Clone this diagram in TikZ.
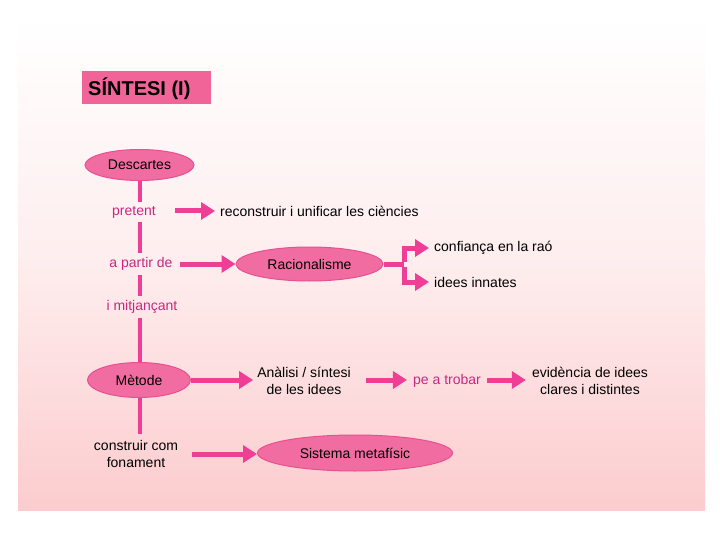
\documentclass[tikz,border=0pt]{standalone}
\usepackage{fontspec}
\setmainfont{Liberation Sans}
\usetikzlibrary{shapes.geometric,arrows.meta}
\definecolor{pinkbg}{RGB}{252,204,206}
\definecolor{arrowpink}{RGB}{238,62,150}
\definecolor{ellfill}{RGB}{241,108,160}
\definecolor{elldraw}{RGB}{232,80,145}
\definecolor{titlefill}{RGB}{241,100,152}
\definecolor{labpink}{RGB}{200,40,128}
\tikzset{
  txt/.style={font=\fontsize{14}{16.5}\selectfont, text=black, inner sep=4pt, align=center},
  lab/.style={txt, text=labpink},
  ell/.style={ellipse, draw=elldraw, line width=1pt, fill=ellfill, inner sep=0pt, font=\fontsize{14}{16.5}\selectfont},
  conn/.style={draw=arrowpink, line width=5pt},
  vline/.style={draw=arrowpink, line width=4pt},
  arr/.style={conn, -{Triangle[length=14pt,width=17pt]}},
}
\begin{document}
\begin{tikzpicture}[x=1pt,y=-1pt]
\useasboundingbox (0,0) rectangle (720,540);
\fill[white] (0,0) rectangle (720,540);
\shade[top color=white, bottom color=pinkbg, middle color={pinkbg!35!white}] (18,18) rectangle (705,510);
% title
\node[fill=titlefill, minimum width=129pt, minimum height=33pt, inner sep=0pt] (titlebox) at (146.5,87.5) {};
\node[anchor=west, font=\fontsize{20}{22}\selectfont\bfseries, inner sep=0pt] (title) at (88,89) {SÍNTESI (I)};
% left column
\node[ell, minimum width=109pt, minimum height=31pt] (desc) at (139.5,165) {Descartes};
\node[lab] (pretent) at (134,212) {pretent};
\node[lab] (apartir) at (141,264) {a partir de};
\node[lab] (mitj) at (142,307) {i mitjançant};
\node[ell, minimum width=103pt, minimum height=35pt] (metode) at (139,380) {Mètode};
\node[txt, inner sep=6pt] (constr) at (136,454) {construir com\\fonament};
% vertical line segments
\coordinate (vx) at (140,0);
\draw[vline] (vx |- desc.south) -- (vx |- pretent.north);
\draw[vline] (vx |- pretent.south) -- (vx |- apartir.north);
\draw[vline] (vx |- apartir.south) -- (vx |- mitj.north);
\draw[vline] (vx |- mitj.south) -- (vx |- metode.north);
\draw[vline] (vx |- metode.south) -- (vx |- constr.north);
% row pretent
\node[txt, anchor=west, inner sep=0pt] (recon) at (220,211) {reconstruir i unificar les ciències};
\coordinate (p1) at (175,211);
\draw[arr] (p1) -- ([xshift=-5pt]recon.west);
% row a partir de
\node[ell, minimum width=147pt, minimum height=34pt] (racio) at (309.5,264) {Racionalisme};
\coordinate (a1) at (180,264);
\draw[arr] (a1) -- (racio.west);
\node[txt, anchor=west, inner sep=0pt] (confi) at (434,248) {confiança en la raó};
\node[txt, anchor=west, inner sep=0pt] (innat) at (434,282) {idees innates};
\coordinate (br) at (404,264);
\draw[conn] (racio.east) -- (br);
\draw[arr] ([yshift=2.5pt]br) |- ([xshift=-5pt]confi.west);
\draw[arr] ([yshift=-2.5pt]br) |- ([xshift=-5pt]innat.west);
% row metode
\node[txt] (anal) at (304,381) {Anàlisi / síntesi\\de les idees};
\node[lab] (pe) at (447,381) {pe a trobar};
\node[txt] (evid) at (590,381) {evidència de idees\\clares i distintes};
\coordinate (m1) at (191,380);
\coordinate (m2) at (366,380);
\coordinate (m3) at (487,380);
\draw[arr] (m1) -- (anal.west |- m1);
\draw[arr] (m2) -- ([xshift=-2pt]pe.west |- m2);
\draw[arr] (m3) -- ([xshift=-2pt]evid.west |- m3);
% row construir
\node[ell, minimum width=195pt, minimum height=36pt] (sist) at (355,453) {Sistema metafísic};
\coordinate (c1) at (192,454);
\draw[arr] (c1) -- (sist.west |- c1);
\end{tikzpicture}
\end{document}
